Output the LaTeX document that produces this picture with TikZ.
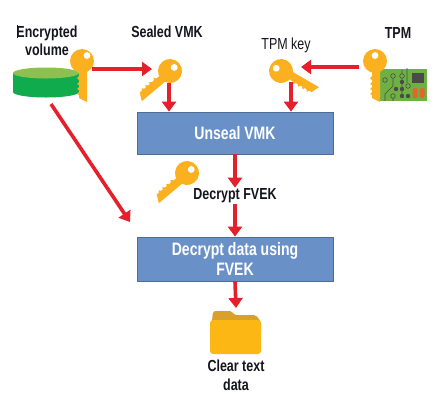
\documentclass[tikz,border=0pt]{standalone}
\usepackage{fontspec}
\setmainfont[FakeStretch=0.78]{Liberation Sans}
\usepackage{tikz}
\usetikzlibrary{calc,arrows.meta,positioning}
\definecolor{KeyGold}{HTML}{FBB01F}
\definecolor{ArrowRed}{HTML}{E3202B}
\definecolor{BoxBlue}{HTML}{6A90C8}
\definecolor{BoxEdge}{HTML}{4F6C94}
\definecolor{DiskDark}{HTML}{10AB4C}
\definecolor{DiskTop}{HTML}{8CC152}
\definecolor{ChipGreen}{HTML}{6FB043}
\definecolor{ChipDark}{HTML}{4A4A4A}
\definecolor{ChipPad}{HTML}{E0662A}
\definecolor{FolderBack}{HTML}{D9A02B}
\definecolor{FolderFront}{HTML}{FDB714}
\definecolor{LabelInk}{HTML}{14141E}
\tikzset{
  redarrow/.style={draw=ArrowRed, line width=3.6pt, -{Triangle[length=10pt,width=14pt]}},
  stagebox/.style={draw=BoxEdge, fill=BoxBlue, line width=0.8pt, minimum width=196pt,
    text=white, font=\fontsize{18}{20.5}\selectfont\bfseries, align=center, inner sep=0pt},
  keylabel/.style={text=LabelInk, font=\fontsize{16}{18.5}\selectfont\bfseries, align=center, inner sep=1pt},
  pics/keyicon/.style={code={
    \fill[KeyGold] (0,0) circle (12);
    \fill[KeyGold] (5,0) -- (5,41) -- (-3,37) -- (-3,34) -- (-5,33) -- (-3,31) -- (-3,29)
      -- (-5,28) -- (-3,26) -- (-3,24) -- (-5,23) -- (-3,21) -- (-3,19) -- (-5,17) -- (-3,15) -- (-3,0) -- cycle;
    \fill[white] (#1,-5.5) circle (3.4);
  }},
  pics/keyicon/.default=0
}
\begin{document}
\begin{tikzpicture}[x=1pt,y=-1pt]
  \useasboundingbox (0,0) rectangle (439,400);
  % Encrypted volume
  \fill[DiskDark] (13,73) -- (13,92) arc[start angle=180,end angle=360,x radius=33,y radius=-5.5]
    -- (79,73) -- cycle;
  \fill[DiskTop] (46,73) ellipse (33 and 5.5);
  \pic at (82,61) {keyicon=5};
  \draw[LabelInk, line width=0.6pt] (17,25) -- (17,38);
  % Chip behind the TPM key
  \fill[ChipGreen] (380,69) rectangle (427,101);
  \fill[ChipDark] (412,73) rectangle (424,83);
  \foreach \x in {415,422}{
    \fill[ChipPad, rounded corners=1.5pt] (\x-2.5,88) rectangle (\x+2.5,98);
  }
  \draw[ChipDark, line width=0.6pt] (407,68) -- (407,83) (402,70) -- (402,96)
    (393,79) -- (393,86) -- (385,94) -- (385,101) (393,96) -- (393,101);
  \foreach \x/\y in {385/80, 393/76, 402/76, 408/86, 393/96}{
    \draw[ChipDark, fill=ChipGreen, line width=0.6pt] (\x,\y) circle (2.3);
  }
  \foreach \x/\y in {402/82, 396/89, 402/89, 402/96, 408/96}{
    \fill[ChipDark] (\x,\y) circle (2.2);
  }
  \pic at (375,61) {keyicon};
  % Loose keys
  \pic[rotate=-50] at (170,71) {keyicon};
  \pic[rotate=60] at (281,71) {keyicon};
  \pic[rotate=-50] at (187,173) {keyicon};
  % Folder
  \fill[FolderBack, rounded corners=2pt] (211,332) -- (213,311) -- (232,311) -- (234,315)
    -- (256,315) -- (261,322) -- (261,332) -- cycle;
  \fill[FolderFront, rounded corners=3pt] (210,320) rectangle (261,354);
  % Labels
  \node[keylabel] (vollabel) at (47,41) {Encrypted\\volume};
  \node[keylabel] (sealedlabel) at (167,32) {Sealed VMK};
  \node[keylabel, font=\fontsize{16}{18}\selectfont] (tpmkeylabel) at (286,45) {TPM key};
  \node[keylabel] (tpmlabel) at (398,33) {TPM};
  \node[keylabel] (fvek) at (235,196) {Decrypt FVEK};
  \node[keylabel] (cleartext) at (236,375.5) {Clear text\\data};
  % Stages
  \node[stagebox, minimum height=42pt] (unseal) at (235,133) {Unseal VMK};
  \node[stagebox, minimum height=44pt] (decrypt) at (235,259) {Decrypt data using\\FVEK};
  % Arrow ends at the icons
  \coordinate (volkey) at (92,69);
  \coordinate (sealedin) at (152,69);
  \coordinate (sealedout) at (169,83);
  \coordinate (tpmkey) at (359,67);
  \coordinate (tpmkeyin) at (301,67);
  \coordinate (tpmkeyout) at (291,82);
  \coordinate (diskedge) at (51,104);
  \coordinate (decryptedge) at (130,222);
  \coordinate (foldertop) at (236,308);
  % Connectors
  \draw[redarrow] (volkey) -- (sealedin);
  \draw[redarrow] (sealedout) -- (sealedout |- unseal.north);
  \draw[redarrow] (tpmkey) -- (tpmkeyin);
  \draw[redarrow] (tpmkeyout) -- (tpmkeyout |- unseal.north);
  \draw[redarrow] (unseal.south) -- (fvek.north);
  \draw[redarrow] (fvek.south) -- (decrypt.north);
  \draw[redarrow] (decrypt.south) -- (foldertop);
  \draw[redarrow] (diskedge) -- (decryptedge);
\end{tikzpicture}
\end{document}
